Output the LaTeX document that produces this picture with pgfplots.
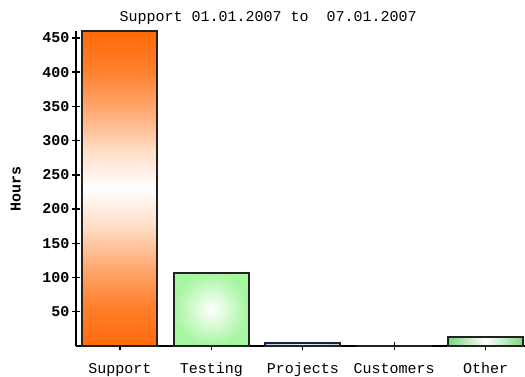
\documentclass[border=0pt]{standalone}
\usepackage{pgfplots}
\pgfplotsset{compat=1.18}
\usepackage{fontspec}
\setmainfont{Liberation Mono}
\definecolor{supor}{HTML}{FF6A0A}
\definecolor{testg}{HTML}{A6F5A0}
\definecolor{projb}{HTML}{A9D2FA}
\definecolor{othg}{HTML}{7ED47E}
\definecolor{edge}{HTML}{222222}
\pgfdeclareverticalshading{supsh}{100bp}{color(0bp)=(supor); color(25bp)=(supor); color(31.25bp)=(supor!86!white); color(37.5bp)=(supor!58!white); color(43.75bp)=(supor!24!white); color(50bp)=(white); color(56.25bp)=(supor!24!white); color(62.5bp)=(supor!58!white); color(68.75bp)=(supor!86!white); color(75bp)=(supor); color(100bp)=(supor)}
\begin{document}
\begin{tikzpicture}
\path[use as bounding box] (-76bp,-31bp) rectangle (449bp,346bp);
\begin{axis}[
  scale only axis,
  width=449bp, height=315bp,
  at={(0,0)}, anchor=south west,
  xmin=-0.48, xmax=4.43,
  ymin=0, ymax=460,
  axis x line*=bottom, axis y line*=left,
  axis line style={line width=1.6bp, black, -},
  xtick={0,1,2,3,4},
  xticklabels={Support,Testing,Projects,Customers,Other},
  ytick={50,100,...,450},
  tick align=center,
  major tick length=8bp,
  tick style={line width=1.4bp, black},
  font=\fontsize{15bp}{17bp}\selectfont,
  /pgf/number format/assume math mode=true,
  xticklabel style={anchor=base, yshift=-23bp},
  yticklabel style={anchor=east, xshift=1bp, font=\fontsize{15bp}{17bp}\selectfont\bfseries},
  ylabel={Hours},
  ylabel style={at={(axis description cs:-0.134,0.5)}, anchor=center, font=\fontsize{15bp}{17bp}\selectfont\bfseries},
  title={Support 01.01.2007 to\ \ 07.01.2007},
  title style={at={(axis description cs:0.428,1)}, anchor=base, yshift=4bp, inner sep=0pt},
  clip=true,
]
\addplot[ybar, bar width=0.82, bar shift=0, draw=edge, line width=2bp,
  shading=supsh]
  coordinates {(0,460)};
\addplot[ybar, bar width=0.82, bar shift=0, draw=edge, line width=2bp,
  shading=radial, inner color=white, outer color=testg]
  coordinates {(1,107)};
\addplot[ybar, bar width=0.82, bar shift=0, draw=edge, line width=2bp,
  left color=projb, right color=projb, middle color=projb!40]
  coordinates {(2,5)};
\addplot[ybar, bar width=0.82, bar shift=0, draw=edge, line width=2bp,
  fill=white]
  coordinates {(3,0)};
\addplot[ybar, bar width=0.82, bar shift=0, draw=edge, line width=2bp,
  left color=othg, right color=othg, middle color=white]
  coordinates {(4,13)};
\end{axis}
\end{tikzpicture}
\end{document}
